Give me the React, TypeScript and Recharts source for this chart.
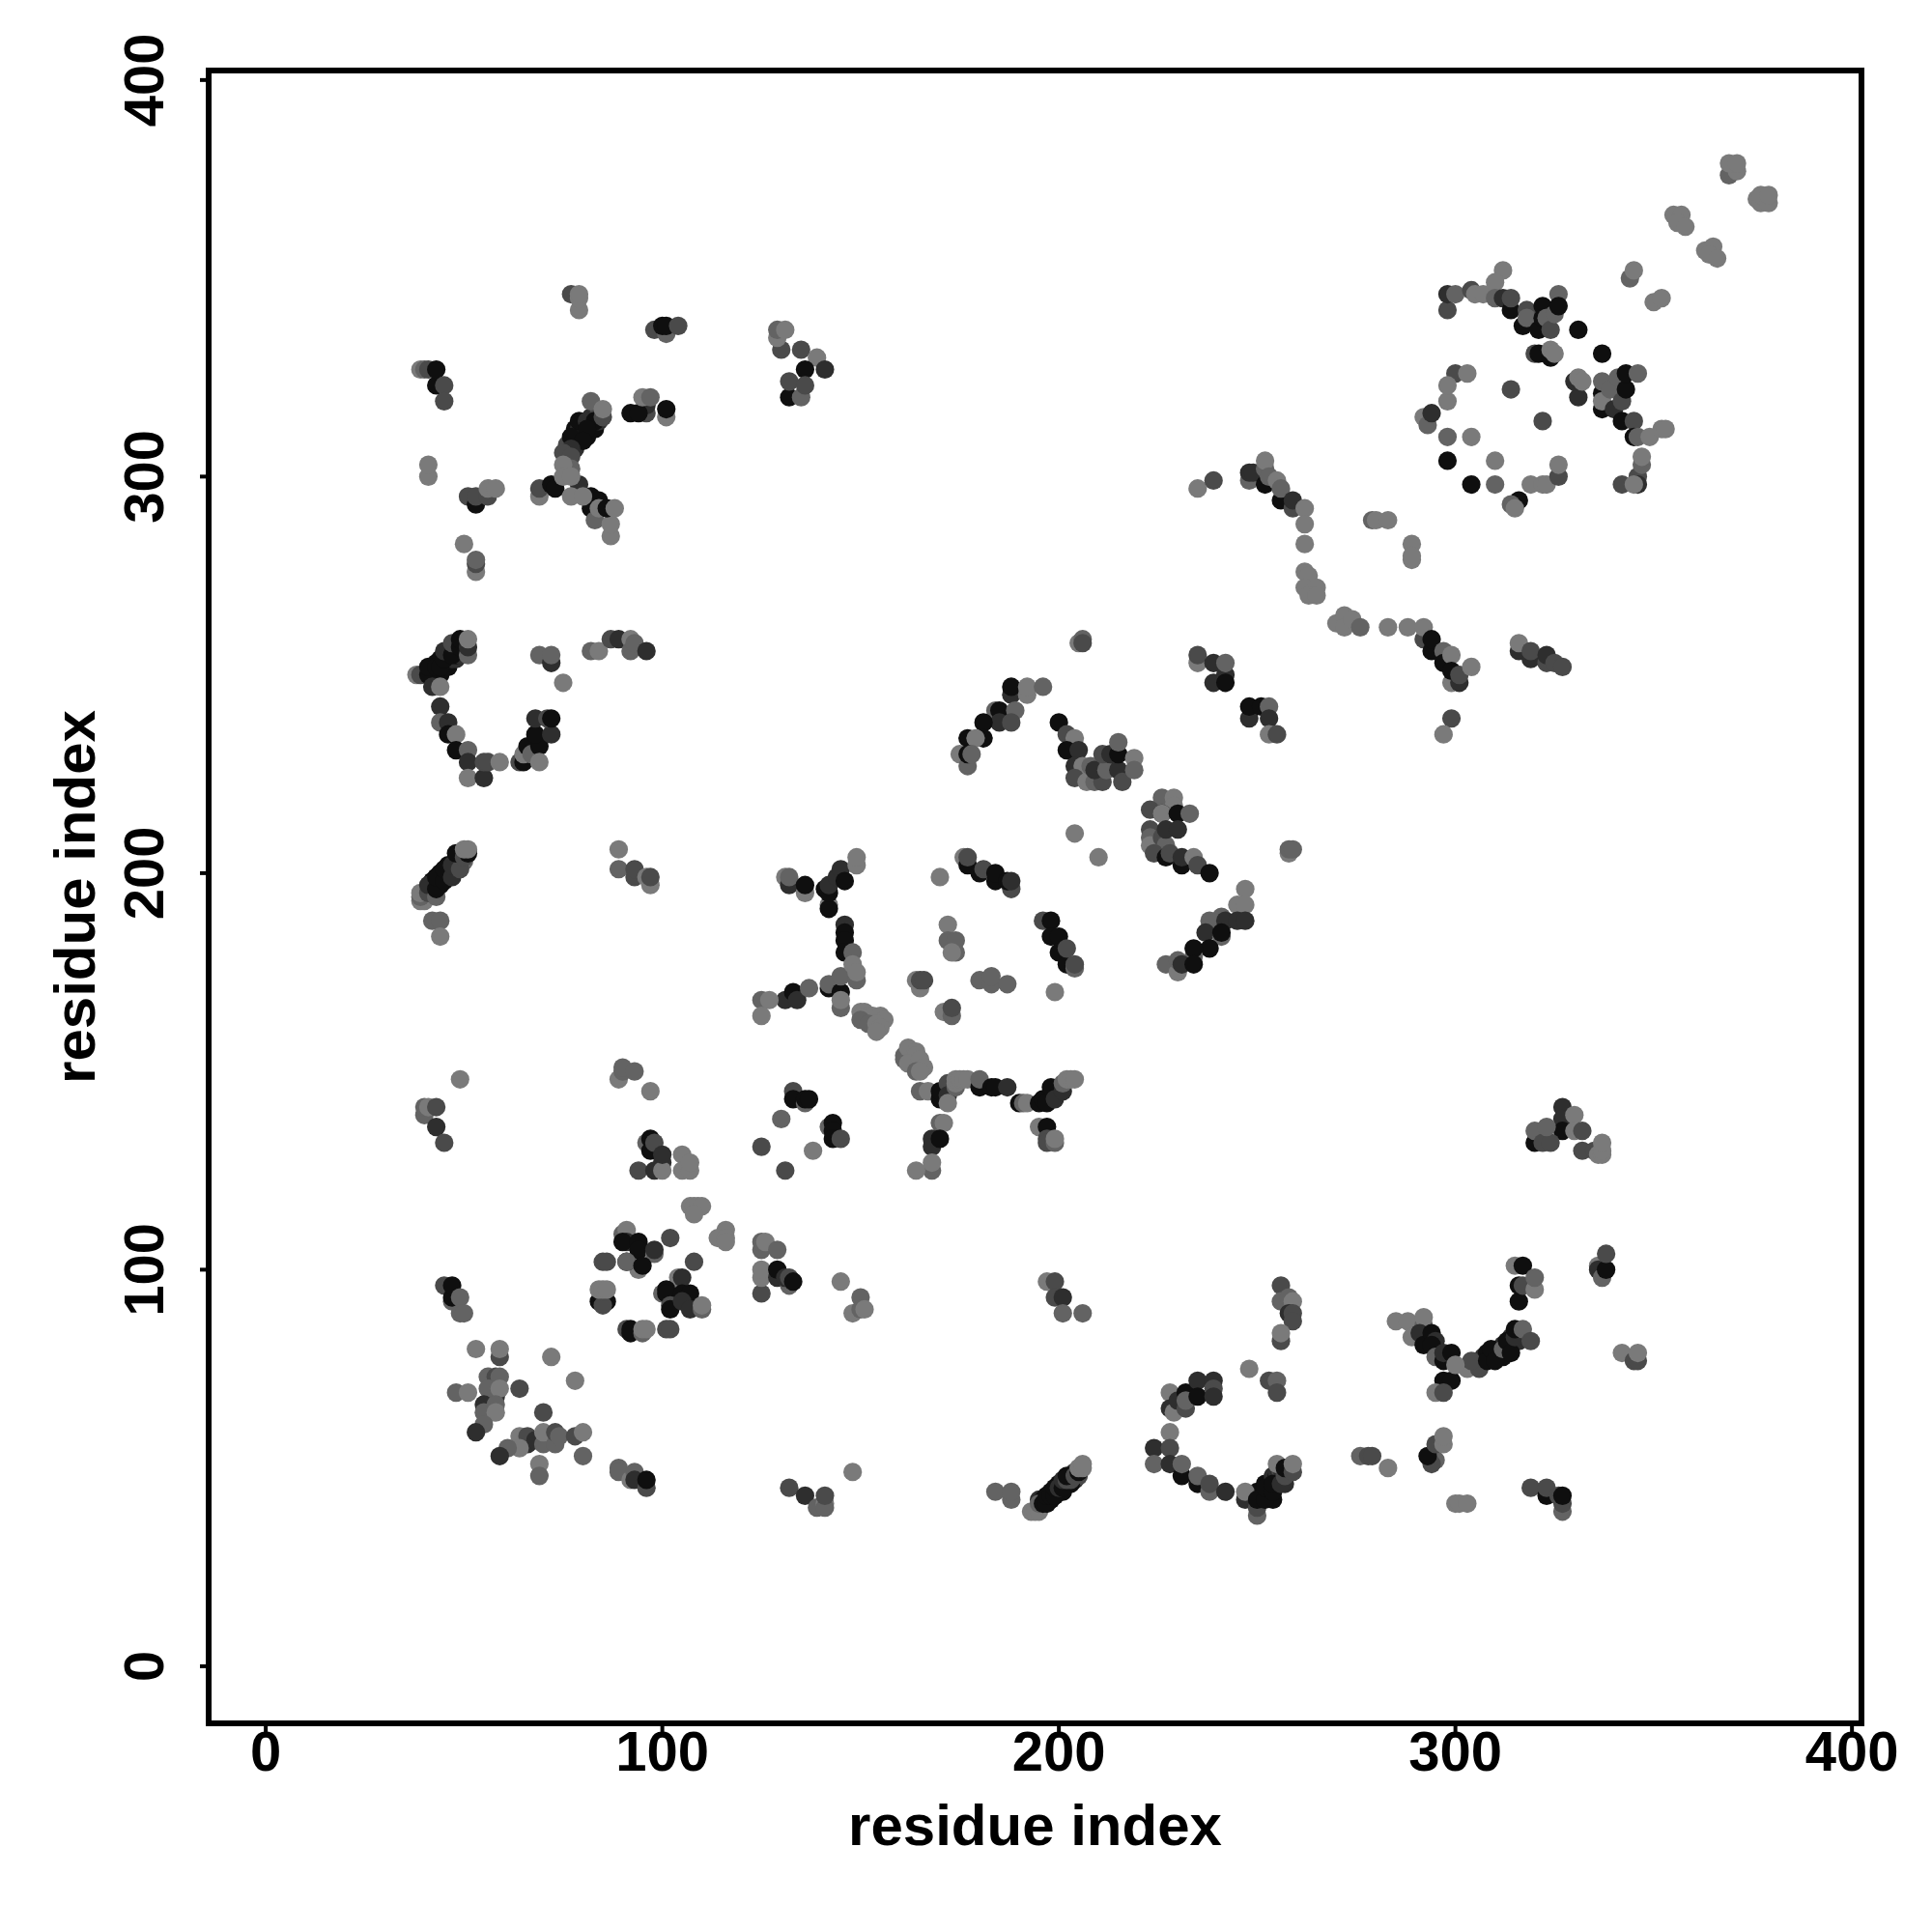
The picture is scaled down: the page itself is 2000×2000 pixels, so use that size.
import { ScatterChart, Scatter, XAxis, YAxis, ReferenceArea, Label } from "recharts";

// every contact is [residue i, residue j, strength level 1 (weak) .. 5 (strong)]
type Contact = [number, number, number];

const axisTicks = [0, 100, 200, 300, 400];
const axisMin = -14.4;
const axisMax = 402.4;
const axisTitle = "residue index";

const levelGrays = ["", "#7a7a7a", "#636363", "#4a4a4a", "#2e2e2e", "#0f0f0f"];

// strongest parts of the helix bands, they sit under the rest
const denseBands: Contact[] = [
  [41, 196, 5], [42, 195, 4], [42, 197, 5], [42, 198, 5], [43, 197, 5], [43, 198, 5], [44, 197, 5], [44, 198, 4], [44, 199, 5], [44, 200, 5], [45, 199, 5], [45, 200, 4],
  [46, 199, 5], [46, 200, 5], [46, 201, 4], [46, 202, 5], [47, 200, 5], [47, 201, 4], [48, 201, 4], [48, 202, 3], [48, 203, 5], [49, 202, 4], [49, 203, 3], [49, 204, 5], [50, 203, 2], [50, 205, 4],
  [195, 42, 4], [196, 42, 5], [197, 42, 5], [197, 43, 5], [198, 44, 5], [198, 42, 5], [199, 44, 5], [200, 44, 5], [200, 46, 5], [201, 44, 5], [201, 46, 4], [202, 46, 4], [203, 48, 3], [204, 47, 4], [204, 49, 4], [205, 48, 3], [203, 46, 5],
  [42, 249, 5], [42, 251, 5], [43, 250, 5], [43, 253, 5], [44, 250, 5], [44, 251, 5], [44, 254, 5], [45, 252, 5], [45, 253, 5], [46, 252, 5], [46, 253, 5], [46, 255, 5], [47, 254, 4], [47, 256, 4],
  [48, 254, 4], [48, 255, 5], [48, 257, 4], [49, 255, 4], [49, 256, 3], [50, 256, 4], [50, 258, 4],
  [249, 42, 5], [251, 42, 5], [250, 43, 5], [253, 43, 5], [250, 44, 5], [251, 44, 5], [254, 42, 5], [252, 45, 5], [253, 45, 5], [252, 46, 5], [253, 46, 5], [255, 46, 4], [254, 47, 4], [256, 47, 4],
  [254, 48, 4], [255, 48, 5], [257, 46, 4], [255, 49, 4], [256, 49, 3], [256, 50, 4], [258, 50, 4],
  [76, 308, 3], [78, 307, 4], [78, 309, 5], [78, 312, 5], [79, 310, 5], [79, 312, 4], [80, 311, 5], [80, 313, 4], [81, 310, 5], [82, 313, 5], [82, 315, 4], [83, 312, 5], [84, 314, 4], [84, 316, 3],
  [305, 76, 3], [307, 78, 4], [308, 79, 5], [309, 78, 5], [310, 79, 5], [311, 80, 5], [312, 78, 5], [312, 81, 4], [313, 80, 4], [314, 81, 5], [314, 83, 4], [316, 84, 5], [316, 82, 4],
];

const lowerLeft: Contact[] = [
  [45, 96, 3], [47, 92, 2], [47, 93, 5], [47, 96, 5], [49, 93, 2], [49, 89, 2], [50, 89, 2],
  [53, 80, 1], [59, 78, 3], [59, 80, 1], [48, 69, 2], [51, 69, 1], [58, 68, 4], [56, 73, 2], [58, 73, 3], [59, 73, 2],
  [56, 70, 2], [59, 70, 1], [64, 70, 3], [55, 66, 4], [55, 64, 2], [58, 66, 2], [58, 64, 1], [55, 61, 2], [53, 59, 4],
  [70, 64, 3], [72, 78, 1], [78, 72, 1], [64, 58, 1], [66, 56, 4], [66, 58, 3], [68, 57, 4], [70, 56, 2], [70, 59, 1],
  [73, 56, 2], [73, 59, 3], [74, 58, 2], [78, 58, 3], [80, 59, 1], [64, 55, 1], [61, 55, 2], [59, 53, 4], [69, 51, 1],
  [69, 48, 2], [80, 53, 2], [89, 50, 2], [89, 49, 2], [92, 47, 1], [93, 49, 2], [93, 47, 4], [96, 45, 3], [96, 47, 5],
  [132, 45, 3], [136, 43, 4], [139, 40, 2], [141, 41, 1], [141, 40, 2], [141, 43, 3], [148, 49, 1],
];

const firstKnot: Contact[] = [
  [90, 109, 2], [91, 110, 1], [91, 107, 4], [90, 107, 5], [94, 107, 5], [94, 105, 5], [98, 104, 2], [98, 105, 4], [102, 108, 3],
  [94, 100, 1], [91, 102, 5], [91, 102, 2], [95, 101, 5], [85, 102, 3], [86, 102, 3], [108, 102, 3], [84, 92, 5], [86, 92, 5],
  [85, 91, 3], [84, 95, 1], [85, 95, 1], [86, 95, 1], [91, 85, 3], [92, 84, 5], [92, 85, 5], [95, 84, 2], [95, 85, 1], [96, 85, 1],
  [101, 85, 3], [102, 85, 3], [104, 98, 1], [105, 98, 4], [100, 94, 2], [101, 95, 5], [101, 94, 5], [105, 94, 5], [107, 94, 5],
  [102, 91, 3], [102, 90, 5], [105, 92, 4], [107, 90, 4], [110, 90, 2], [110, 91, 1],
  [107, 116, 1], [108, 116, 1], [109, 116, 1], [110, 116, 1], [108, 114, 1], [116, 110, 1], [114, 108, 1], [116, 108, 1], [116, 107, 1],
  [125, 105, 2], [125, 107, 2], [126, 107, 1], [129, 105, 2], [125, 94, 3], [125, 98, 1], [125, 100, 1], [129, 98, 4], [129, 100, 5],
  [132, 96, 2], [131, 98, 4], [132, 98, 3], [133, 97, 5], [145, 97, 1], [150, 93, 2], [148, 89, 1], [150, 90, 2], [151, 90, 1],
];

const betaColumn: Contact[] = [
  [39, 193, 1], [40, 193, 1], [39, 194, 2], [39, 195, 1], [41, 195, 3], [41, 197, 4], [43, 194, 2], [43, 196, 5], [43, 199, 5],
  [45, 198, 5], [45, 201, 5], [47, 199, 4], [47, 202, 4], [49, 201, 3], [48, 205, 5], [50, 204, 3], [51, 205, 5], [50, 206, 1], [51, 206, 1],
  [42, 188, 2], [44, 188, 2], [44, 184, 1], [89, 206, 1], [89, 201, 2], [93, 199, 3], [93, 201, 3], [96, 199, 1], [97, 197, 1], [97, 199, 3],
  [40, 139, 2], [40, 141, 2], [41, 141, 1], [43, 141, 3], [43, 136, 4], [45, 132, 3], [49, 148, 1], [89, 148, 1], [90, 150, 2], [90, 151, 2],
  [93, 150, 2], [97, 145, 1], [96, 132, 2], [97, 133, 5], [97, 130, 5], [98, 132, 3], [94, 125, 3], [98, 125, 4], [100, 127, 4], [100, 125, 1],
  [100, 129, 4], [105, 129, 1], [105, 125, 1], [107, 125, 1], [107, 127, 1], [131, 125, 3],
];

const centreUpperLeft: Contact[] = [
  [131, 199, 1], [132, 197, 4], [132, 199, 2], [136, 195, 1], [136, 197, 5], [141, 196, 5], [142, 192, 1], [142, 191, 5], [142, 195, 5],
  [142, 197, 4], [144, 199, 4], [145, 201, 4], [146, 198, 5], [149, 202, 1], [149, 204, 1], [146, 187, 4], [146, 185, 5], [146, 183, 5],
  [146, 180, 5], [148, 180, 2], [142, 171, 5], [142, 172, 2], [145, 170, 5], [145, 174, 2], [145, 166, 2], [145, 168, 1], [148, 177, 1], [149, 173, 2], [149, 175, 1],
  [131, 168, 4], [133, 170, 5], [134, 168, 4], [137, 171, 2], [125, 168, 2], [127, 168, 1], [125, 164, 1],
  [133, 145, 3], [133, 143, 5], [136, 142, 2], [136, 143, 5], [137, 143, 5], [130, 138, 2], [142, 136, 2], [143, 137, 5], [143, 135, 5],
  [143, 133, 5], [145, 133, 3], [125, 131, 3], [138, 130, 1],
  [150, 165, 1], [151, 165, 1], [152, 164, 1], [153, 164, 1], [155, 164, 1], [156, 163, 1], [150, 163, 2], [152, 162, 2], [154, 162, 1], [155, 161, 1], [154, 160, 1],
  [161, 154, 2], [161, 153, 2], [162, 156, 1], [164, 155, 1], [164, 154, 1], [162, 152, 1], [165, 153, 1], [166, 151, 1], [164, 150, 2], [165, 150, 1],
];

const centreDiagonal: Contact[] = [
  [165, 145, 2], [167, 145, 1], [170, 143, 5], [170, 145, 5], [172, 147, 3], [172, 144, 4], [172, 142, 1], [174, 146, 2], [174, 147, 1],
  [174, 148, 1], [175, 148, 1], [176, 148, 1], [177, 148, 1], [180, 146, 5], [180, 148, 2], [183, 146, 5], [184, 146, 5], [187, 146, 4],
  [190, 142, 5], [191, 142, 2], [192, 142, 1], [195, 142, 5], [196, 143, 5], [197, 142, 5], [198, 146, 5], [199, 143, 4], [201, 145, 4],
  [201, 147, 2], [202, 148, 1], [203, 148, 1], [204, 148, 1], [195, 136, 1], [197, 136, 5], [197, 133, 3], [197, 132, 3], [199, 132, 2], [199, 133, 1],
  [170, 137, 2], [171, 137, 1], [168, 133, 4], [168, 131, 4], [170, 133, 5], [168, 125, 2], [168, 127, 1], [164, 125, 1],
  [170, 199, 1], [172, 187, 1], [172, 183, 2], [174, 183, 2], [174, 180, 2], [173, 180, 1], [164, 173, 1], [165, 171, 1], [165, 173, 3], [166, 173, 3],
  [171, 165, 1], [173, 164, 2], [173, 166, 3], [180, 173, 2], [183, 172, 2], [183, 174, 2], [187, 172, 2], [199, 170, 1],
  [176, 204, 1], [177, 202, 5], [177, 204, 3], [180, 200, 5], [181, 201, 3], [184, 198, 5], [184, 200, 5], [188, 196, 3], [187, 198, 5], [188, 198, 4],
  [196, 188, 3], [198, 188, 5], [198, 184, 5], [200, 184, 5], [200, 180, 5], [202, 177, 5], [202, 181, 3], [204, 176, 2], [204, 177, 3], [204, 210, 1], [210, 204, 1],
];

const centreUpper: Contact[] = [
  [205, 258, 1], [206, 259, 2], [206, 258, 3], [188, 245, 4], [188, 247, 5], [192, 245, 1], [192, 247, 1], [196, 247, 2],
  [184, 241, 2], [185, 241, 5], [189, 241, 2], [185, 238, 4], [188, 238, 3], [181, 238, 5], [181, 234, 5], [177, 234, 5], [179, 234, 1],
  [175, 230, 1], [177, 227, 2], [177, 230, 5], [178, 230, 2],
  [200, 238, 5], [202, 235, 3], [204, 234, 1], [202, 231, 5], [205, 231, 4], [204, 227, 4], [206, 227, 1], [204, 224, 3], [207, 223, 1], [209, 223, 2],
  [211, 223, 3], [208, 227, 2], [209, 226, 4], [212, 226, 2], [211, 230, 3], [213, 230, 4], [215, 226, 4], [215, 230, 5], [215, 233, 2], [216, 223, 3], [219, 229, 1], [219, 226, 2],
  [226, 219, 2], [229, 219, 1], [229, 217, 1], [223, 216, 3], [226, 215, 5], [226, 215, 1], [230, 215, 5], [233, 215, 2],
  [223, 211, 3], [223, 209, 2], [223, 207, 1], [226, 209, 3], [227, 207, 2], [227, 211, 4], [230, 211, 4], [224, 205, 3], [227, 204, 5], [228, 205, 3],
  [231, 202, 5], [231, 204, 4], [234, 204, 1], [235, 202, 3], [238, 200, 5], [258, 205, 1], [258, 206, 2], [259, 206, 2],
  [235, 253, 1], [235, 255, 3], [239, 253, 4], [242, 250, 4], [242, 253, 2], [239, 248, 4], [242, 248, 5], [248, 239, 4], [248, 242, 5], [251, 242, 5], [253, 242, 2],
  [253, 239, 4], [253, 235, 1], [255, 235, 3],
  [247, 196, 1], [245, 192, 1], [247, 192, 1], [241, 189, 2], [238, 188, 2], [242, 188, 4], [245, 188, 4], [247, 188, 4], [237, 185, 4], [241, 184, 2], [241, 185, 5],
  [238, 181, 5], [234, 179, 2], [234, 181, 5], [227, 177, 2], [230, 175, 1], [230, 178, 2], [231, 177, 4], [234, 177, 5],
];

const lowerMiddle: Contact[] = [
  [197, 97, 1], [199, 97, 3], [199, 93, 3], [201, 93, 4], [201, 89, 2], [206, 89, 2], [184, 44, 2], [188, 42, 2], [188, 44, 2],
  [193, 39, 1], [194, 39, 1], [195, 39, 1], [195, 41, 2], [196, 41, 5], [197, 41, 5], [197, 43, 5], [198, 43, 5], [199, 43, 5], [199, 45, 5], [200, 45, 4], [201, 45, 5],
  [201, 47, 4], [202, 47, 3], [203, 47, 3], [202, 48, 5], [204, 48, 3], [205, 49, 5], [205, 50, 1], [206, 50, 1], [206, 51, 1],
  [224, 55, 4], [224, 51, 2], [228, 59, 1], [228, 55, 3], [228, 51, 4], [231, 48, 5], [231, 51, 2], [235, 46, 5], [235, 48, 2], [238, 44, 2], [238, 46, 3], [242, 44, 4],
  [247, 42, 4], [247, 44, 1], [250, 38, 2], [250, 40, 3], [250, 42, 5], [252, 42, 5], [252, 45, 5], [254, 44, 5], [254, 46, 5], [256, 46, 4], [255, 51, 1], [257, 48, 3], [257, 50, 5], [259, 49, 3], [259, 51, 1],
  [228, 69, 1], [228, 65, 4], [229, 64, 1], [230, 67, 4], [232, 69, 5], [232, 65, 3], [232, 67, 2], [235, 72, 4], [235, 68, 5], [239, 72, 4], [239, 70, 3], [239, 68, 4],
  [248, 75, 1], [253, 72, 3], [255, 72, 2], [255, 69, 3], [256, 96, 3], [256, 92, 2], [258, 93, 2], [259, 92, 1], [258, 89, 4], [259, 89, 3], [259, 87, 3], [256, 82, 3], [256, 84, 1],
];

const lowerRight: Contact[] = [
  [327, 141, 4], [327, 138, 4], [330, 139, 1], [327, 135, 5], [320, 132, 5], [320, 135, 2], [322, 132, 3], [324, 132, 3], [323, 136, 2], [330, 135, 1], [332, 135, 3],
  [332, 130, 3], [335, 130, 3], [336, 129, 1], [337, 129, 1], [337, 130, 1], [337, 132, 1],
  [315, 101, 1], [317, 101, 5], [316, 92, 5], [316, 96, 5], [317, 96, 3], [320, 95, 1], [320, 98, 2],
  [336, 101, 1], [336, 100, 4], [337, 98, 2], [338, 100, 5], [338, 104, 3], [342, 79, 1], [345, 77, 3], [346, 77, 3], [346, 79, 1],
  [285, 87, 1], [288, 87, 1], [292, 86, 2], [292, 88, 1], [289, 83, 1], [291, 84, 4], [292, 81, 5], [294, 84, 5], [295, 82, 4], [294, 81, 5], [295, 78, 2], [297, 77, 5], [297, 79, 4], [299, 79, 5],
  [297, 72, 5], [299, 72, 5], [295, 69, 1], [297, 69, 3], [303, 75, 1], [306, 75, 3], [304, 77, 3], [300, 76, 1],
  [308, 77, 5], [309, 80, 5], [310, 77, 5], [312, 80, 2], [313, 82, 5], [314, 79, 5], [315, 83, 4], [315, 85, 5], [317, 85, 2], [319, 82, 3],
  [276, 53, 2], [278, 53, 3], [279, 53, 3], [283, 50, 1], [295, 52, 2], [294, 51, 3], [293, 53, 5], [295, 56, 3], [297, 56, 1], [297, 58, 1],
  [300, 41, 1], [301, 41, 1], [303, 41, 1], [319, 45, 3], [323, 43, 5], [323, 45, 3], [326, 43, 3], [327, 39, 2], [327, 41, 3], [327, 43, 5],
];

const upperLeft: Contact[] = [
  [39, 327, 1], [40, 327, 2], [41, 327, 3], [43, 323, 5], [43, 327, 5], [45, 323, 3], [45, 319, 3], [77, 346, 3], [79, 342, 1], [79, 345, 1], [79, 346, 1],
  [98, 337, 3], [101, 336, 2], [100, 338, 5], [101, 338, 5], [104, 338, 3], [130, 332, 3], [129, 335, 1], [129, 337, 2], [131, 337, 1],
  [135, 332, 3], [139, 330, 1], [136, 327, 5], [141, 327, 4], [132, 320, 5], [132, 324, 3], [135, 320, 2], [136, 323, 3],
  [82, 319, 2], [79, 314, 5], [81, 314, 4], [83, 314, 5], [85, 315, 3], [85, 317, 1], [81, 312, 5], [77, 310, 5], [80, 309, 5], [77, 307, 4], [75, 306, 3], [77, 305, 3], [77, 302, 2], [75, 303, 1],
  [69, 295, 1], [69, 297, 3], [72, 298, 5], [73, 297, 5], [79, 298, 4], [75, 300, 1], [77, 300, 1], [82, 295, 5], [82, 292, 5], [84, 294, 5], [77, 295, 1], [80, 295, 1],
  [83, 289, 2], [87, 285, 1], [87, 288, 1], [84, 292, 1], [86, 292, 5], [88, 292, 1],
  [96, 316, 3], [96, 318, 4], [92, 316, 5], [94, 316, 5], [95, 320, 1], [97, 320, 2], [101, 315, 1], [101, 317, 5],
  [41, 300, 1], [41, 303, 1], [51, 295, 3], [53, 293, 5], [53, 295, 3], [56, 295, 3], [56, 297, 1], [58, 297, 1], [50, 283, 1], [53, 276, 1], [53, 278, 3], [53, 279, 2],
];

const leftArc: Contact[] = [
  [38, 250, 1], [39, 250, 3], [41, 250, 5], [41, 252, 5], [42, 247, 4], [44, 247, 1], [43, 252, 5], [44, 252, 5], [45, 254, 5], [45, 256, 4], [47, 255, 5], [47, 258, 3],
  [49, 257, 5], [49, 259, 5], [51, 255, 2], [51, 257, 4], [51, 259, 1],
  [44, 242, 4], [44, 238, 2], [46, 238, 4], [46, 235, 5], [48, 235, 1], [48, 231, 5], [51, 231, 2], [51, 228, 4], [51, 224, 1], [55, 224, 4], [55, 228, 3], [56, 228, 3], [59, 228, 1],
  [64, 228, 3], [65, 228, 5], [65, 230, 1], [66, 232, 5], [67, 230, 2], [69, 232, 5], [69, 228, 1], [68, 235, 5], [72, 235, 4], [68, 239, 4], [71, 239, 3], [72, 239, 5],
  [69, 255, 2], [72, 253, 4], [72, 255, 2], [75, 248, 1], [82, 256, 2], [84, 256, 1], [87, 259, 3], [89, 259, 4], [92, 259, 1], [92, 256, 2], [93, 258, 2], [96, 256, 4],
];

const rightChain: Contact[] = [
  [235, 297, 1], [239, 299, 3], [248, 299, 2], [248, 301, 4], [249, 301, 4], [252, 298, 5], [252, 302, 2], [252, 304, 1], [253, 300, 2], [255, 299, 1], [256, 294, 5], [256, 297, 2],
  [259, 292, 3], [259, 294, 4], [262, 292, 1], [262, 288, 1], [262, 283, 1], [262, 276, 1], [263, 275, 1], [262, 272, 1], [265, 272, 1], [263, 270, 1], [265, 270, 1],
  [270, 263, 1], [272, 265, 1], [272, 262, 1], [274, 264, 1], [276, 262, 2], [283, 262, 1], [288, 262, 1], [292, 259, 3], [292, 262, 1],
  [294, 256, 5], [294, 259, 5], [297, 256, 2], [297, 253, 5], [299, 255, 1], [299, 248, 1], [299, 251, 5], [301, 248, 4], [301, 250, 3], [304, 252, 1],
  [279, 289, 2], [280, 289, 1], [283, 289, 1], [289, 283, 1], [289, 279, 1], [289, 280, 1], [316, 256, 4], [316, 258, 1], [319, 254, 4], [319, 256, 3],
  [323, 253, 3], [323, 255, 4], [325, 253, 3], [327, 252, 3], [299, 239, 3], [297, 235, 1],
];

const upperRight: Contact[] = [
  [369, 376, 2], [371, 377, 1], [369, 379, 1], [371, 379, 1], [376, 370, 1], [377, 369, 1], [377, 371, 1], [379, 369, 1], [379, 371, 1],
  [355, 366, 1], [357, 366, 1], [356, 364, 1], [358, 363, 1], [363, 357, 1], [365, 358, 1], [364, 356, 1], [366, 355, 1], [344, 350, 2], [345, 352, 1], [350, 344, 1], [352, 345, 1],
  [298, 342, 3], [298, 346, 4], [300, 346, 2], [304, 347, 3], [305, 346, 1], [307, 346, 1], [312, 352, 1], [310, 349, 1], [310, 345, 2], [312, 345, 4], [314, 342, 5], [314, 345, 3],
  [317, 338, 5], [318, 342, 3], [318, 340, 2], [321, 337, 5], [322, 343, 5], [322, 340, 5], [323, 340, 2], [324, 337, 3], [325, 341, 2], [326, 346, 2], [326, 343, 5], [331, 337, 5],
  [320, 331, 3], [321, 331, 5], [324, 330, 5], [324, 332, 1], [325, 331, 1], [337, 331, 5],
  [300, 326, 3], [303, 326, 1], [298, 319, 1], [298, 323, 1], [314, 322, 3], [322, 314, 3], [292, 315, 1], [293, 313, 2], [294, 316, 4],
  [298, 310, 2], [304, 310, 1], [298, 304, 5], [310, 304, 1], [304, 298, 5], [310, 298, 2], [319, 298, 1], [322, 298, 1], [323, 298, 1], [326, 300, 3], [326, 303, 1],
  [316, 294, 5], [314, 293, 2], [315, 292, 1], [331, 320, 4], [330, 324, 4], [331, 325, 1], [332, 324, 1],
  [337, 317, 5], [337, 321, 5], [337, 319, 1], [337, 324, 2], [339, 322, 2], [340, 317, 4], [341, 325, 2], [342, 319, 3], [343, 322, 5], [343, 326, 5], [346, 326, 2],
  [342, 314, 5], [345, 314, 3], [345, 310, 5], [346, 310, 2], [349, 310, 1], [352, 312, 1], [353, 312, 1], [346, 300, 3], [347, 303, 2], [347, 305, 1],
  [346, 298, 4], [342, 298, 3], [345, 298, 1],
];

const contacts = [
  ...denseBands, ...lowerLeft, ...firstKnot, ...betaColumn, ...centreUpperLeft, ...centreDiagonal, ...centreUpper,
  ...lowerMiddle, ...lowerRight, ...upperLeft, ...leftArc, ...rightChain, ...upperRight,
].map(([i, j, level]) => ({ i, j, level }));

const font = { fontFamily: "'Liberation Sans', Arial, sans-serif", fontWeight: 700, fill: "#000" };

function ContactDot(props: any) {
  return <circle cx={props.cx} cy={props.cy} r={9.6} fill={levelGrays[props.payload.level]} />;
}

function BottomTick({ x, y, payload }: any) {
  return (
    <text x={x} y={y + 38} textAnchor="middle" fontSize={58} {...font}>
      {payload.value}
    </text>
  );
}

function LeftTick({ x, y, payload }: any) {
  return (
    <text transform={`translate(${x - 36} ${y}) rotate(-90)`} textAnchor="middle" fontSize={58} {...font}>
      {payload.value}
    </text>
  );
}

function LeftTitle({ viewBox }: any) {
  return (
    <text
      transform={`translate(${viewBox.x + 98} ${viewBox.y + viewBox.height / 2}) rotate(-90)`}
      textAnchor="middle"
      fontSize={60}
      {...font}
    >
      {axisTitle}
    </text>
  );
}

export default function App() {
  return (
    <div style={{ position: "absolute", left: 0, top: 0, width: 2000, height: 2000, background: "#fff" }}>
      <ScatterChart width={2000} height={2000} margin={{ top: 73, right: 73, bottom: 0, left: 0 }}>
        <XAxis
          type="number"
          dataKey="i"
          domain={[axisMin, axisMax]}
          ticks={axisTicks}
          allowDataOverflow
          height={216}
          axisLine={false}
          tickSize={9}
          tickLine={{ stroke: "#000", strokeWidth: 4 }}
          tick={<BottomTick />}
          interval={0}
          label={{ value: axisTitle, position: "insideBottom", offset: 90, fontSize: 60, ...font }}
        />
        <YAxis
          type="number"
          dataKey="j"
          domain={[axisMin, axisMax]}
          ticks={axisTicks}
          allowDataOverflow
          width={216}
          axisLine={false}
          tickSize={9}
          tickLine={{ stroke: "#000", strokeWidth: 4 }}
          tick={<LeftTick />}
          interval={0}
        >
          <Label content={<LeftTitle />} />
        </YAxis>
        <Scatter data={contacts} isAnimationActive={false} shape={<ContactDot />} />
        <ReferenceArea x1={axisMin} x2={axisMax} y1={axisMin} y2={axisMax} fill="none" stroke="#000" strokeWidth={6} />
      </ScatterChart>
    </div>
  );
}
